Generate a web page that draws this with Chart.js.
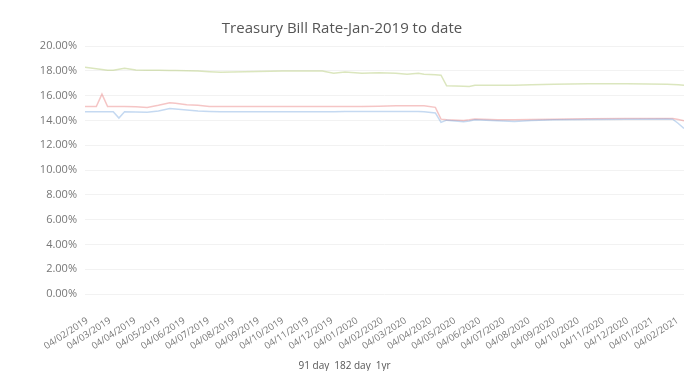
<!DOCTYPE html>
<html>
<head>
<meta charset="utf-8">
<title>Treasury Bill Rate</title>
<script src="https://cdn.jsdelivr.net/npm/chart.js@4"></script>
<style>
    html, body { margin: 0; padding: 0; background: #fff; }
    #wrap { width: 699px; height: 371px; }
</style>
</head>
<body>
<div id="wrap"><canvas id="tbill-chart"></canvas></div>
<script>
// auction dates (line vertices)
const dates = [
    '2019-02-01', '2019-02-15', '2019-02-22', '2019-03-01', '2019-03-08', '2019-03-15',
    '2019-03-22', '2019-04-05', '2019-04-19', '2019-05-03', '2019-05-17', '2019-05-24',
    '2019-06-07', '2019-06-21', '2019-07-05', '2019-07-19', '2019-08-02', '2019-10-04',
    '2019-11-22', '2019-12-06', '2019-12-20', '2020-01-10', '2020-01-31', '2020-02-21',
    '2020-03-06', '2020-03-20', '2020-03-27', '2020-04-10', '2020-04-17', '2020-04-24',
    '2020-05-15', '2020-05-22', '2020-05-29', '2020-06-26', '2020-07-17', '2020-08-07',
    '2020-09-04', '2020-10-16', '2020-12-04', '2021-01-22', '2021-01-29', '2021-02-05',
    '2021-02-12'
];

const day91 = [
    14.70, 14.70, 14.70, 14.70, 14.70, 14.19, 14.70, 14.68, 14.65, 14.75, 14.95, 14.92,
    14.83, 14.75, 14.72, 14.70, 14.70, 14.70, 14.70, 14.70, 14.72, 14.72, 14.72, 14.72,
    14.72, 14.72, 14.70, 14.60, 13.84, 14.02, 13.90, 13.95, 14.06, 13.98, 13.92, 14.00,
    14.05, 14.07, 14.10, 14.12, 14.10, 13.75, 13.35
];

const day182 = [
    15.12, 15.12, 16.12, 15.12, 15.12, 15.12, 15.12, 15.10, 15.05, 15.22, 15.42, 15.38,
    15.26, 15.22, 15.12, 15.12, 15.12, 15.12, 15.12, 15.12, 15.12, 15.12, 15.15, 15.18,
    15.18, 15.18, 15.18, 15.05, 14.10, 14.05, 14.00, 14.05, 14.12, 14.05, 14.05, 14.08,
    14.10, 14.14, 14.15, 14.16, 14.16, 14.07, 13.98
];

const oneYear = [
    18.29, 18.16, 18.10, 18.05, 18.05, 18.12, 18.20, 18.07, 18.05, 18.05, 18.03, 18.02,
    18.00, 17.98, 17.92, 17.88, 17.90, 17.98, 17.98, 17.80, 17.90, 17.80, 17.85, 17.80,
    17.72, 17.80, 17.72, 17.68, 17.65, 16.79, 16.75, 16.73, 16.84, 16.84, 16.84, 16.87,
    16.92, 16.95, 16.95, 16.92, 16.90, 16.87, 16.84
];

const tickLabels = [
    '04/02/2019', '04/03/2019', '04/04/2019', '04/05/2019', '04/06/2019', '04/07/2019',
    '04/08/2019', '04/09/2019', '04/10/2019', '04/11/2019', '04/12/2019', '04/01/2020',
    '04/02/2020', '04/03/2020', '04/04/2020', '04/05/2020', '04/06/2020', '04/07/2020',
    '04/08/2020', '04/09/2020', '04/10/2020', '04/11/2020', '04/12/2020', '04/01/2021',
    '04/02/2021'
];

// days since epoch, so the x axis can be a plain linear scale
function isoDay(s) {
    const p = s.split('-');
    return Date.UTC(+p[0], +p[1] - 1, +p[2]) / 86400000;
}
function dmyDay(s) {
    const p = s.split('/');
    return Date.UTC(+p[2], +p[1] - 1, +p[0]) / 86400000;
}

function toPoints(values) {
    return dates.map((d, i) => ({ x: isoDay(d), y: values[i] }));
}

Chart.defaults.font.family = "'Open Sans', sans-serif";
Chart.defaults.color = '#666';

const ctx = document.getElementById('tbill-chart').getContext('2d');
new Chart(ctx, {
    type: 'line',
    data: {
        datasets: [{
            label: '91 day',
            data: toPoints(day91),
            borderColor: 'rgba(110, 160, 220, 0.4)',
            backgroundColor: 'rgba(110, 160, 220, 0.4)',
            borderWidth: 1.5,
            pointRadius: 0,
            fill: false,
            tension: 0
        }, {
            label: '182 day',
            data: toPoints(day182),
            borderColor: 'rgba(230, 110, 110, 0.4)',
            backgroundColor: 'rgba(230, 110, 110, 0.4)',
            borderWidth: 1.5,
            pointRadius: 0,
            fill: false,
            tension: 0
        }, {
            label: '1yr',
            data: toPoints(oneYear),
            borderColor: 'rgba(175, 200, 110, 0.45)',
            backgroundColor: 'rgba(175, 200, 110, 0.45)',
            borderWidth: 1.5,
            pointRadius: 0,
            fill: false,
            tension: 0
        }]
    },
    options: {
        responsive: true,
        maintainAspectRatio: false,
        animation: false,
        // legend box has empty space under the text, so pull it down a bit
        layout: { padding: { left: 0, right: 15, top: 10, bottom: -10 } },
        plugins: {
            title: {
                display: true,
                text: 'Treasury Bill Rate-Jan-2019 to date',
                color: '#555',
                font: { size: 15, weight: 'normal' },
                padding: { top: 10, bottom: 8 }
            },
            legend: {
                position: 'bottom',
                labels: {
                    boxWidth: 0,
                    boxHeight: 0,
                    padding: 0,
                    color: '#555',
                    font: { size: 10 }
                }
            },
            tooltip: { enabled: false }
        },
        scales: {
            x: {
                type: 'linear',
                min: isoDay(dates[0]),
                max: isoDay(dates[dates.length - 1]),
                grid: { display: false },
                border: { display: false },
                afterBuildTicks: (scale) => {
                    scale.ticks = tickLabels.map(t => ({ value: dmyDay(t) }));
                },
                afterFit: (scale) => { scale.height = 67; },
                ticks: {
                    autoSkip: false,
                    minRotation: 33,
                    maxRotation: 33,
                    padding: 13,
                    color: '#777',
                    font: { size: 9.5 },
                    callback: (value, index) => tickLabels[index]
                }
            },
            y: {
                min: 0,
                max: 20,
                afterFit: (scale) => { scale.width = 85; },
                grid: { color: '#f2f2f2', drawTicks: false },
                border: { display: false },
                ticks: {
                    stepSize: 2,
                    padding: 8,
                    color: '#777',
                    font: { size: 11 },
                    callback: (v) => v.toFixed(2) + '%'
                }
            }
        }
    }
});
</script>
</body>
</html>
